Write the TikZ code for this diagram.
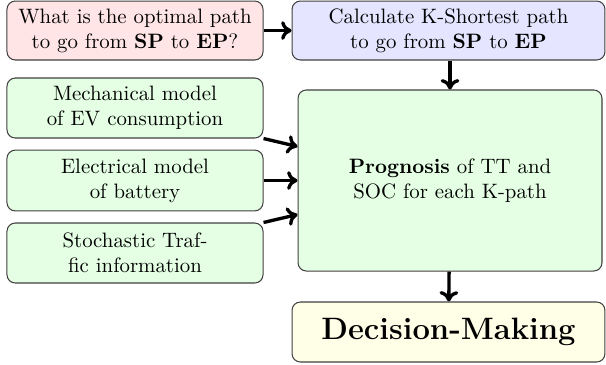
\documentclass[tikz,border=0pt]{standalone}
\usetikzlibrary{arrows.meta,calc}
\begin{document}
\begin{tikzpicture}[x=0.48pt,y=-0.48pt,
  box/.style={draw=black!75, line width=0.5pt, rounded corners=4pt, align=center, inner sep=1pt},
  arr/.style={-{To[length=5pt,width=9pt]}, line width=1.6pt}]
\useasboundingbox (0,0) rectangle (606,364);
\node[box, fill=red!10, minimum width=122.9pt, minimum height=28.3pt] (q) at (135,30.5)
  {What is the optimal path\\to go from \textbf{SP} to \textbf{EP}?};
\node[box, fill=blue!10, minimum width=150.2pt, minimum height=28.3pt] (k) at (448.5,30.5)
  {Calculate K-Shortest path\\to go from \textbf{SP} to \textbf{EP}};
\node[box, fill=green!10, minimum width=122.9pt, minimum height=28.8pt] (m) at (135,108)
  {Mechanical model\\of EV consumption};
\node[box, fill=green!10, minimum width=122.9pt, minimum height=29.2pt] (e) at (135,180.5)
  {Electrical model\\of battery};
\node[box, fill=green!10, minimum width=122.9pt, minimum height=28.8pt] (s) at (135,253)
  {Stochastic Traf-\\fic information};
\node[box, fill=green!10, minimum width=145.9pt, minimum height=86.9pt] (p) at (450,180.5)
  {\textbf{Prognosis} of TT and\\SOC for each K-path};
\node[box, fill=yellow!10, minimum width=150.2pt, minimum height=28.8pt] (d) at (448.5,332)
  {\resizebox{122pt}{!}{\LARGE\bfseries Decision-Making}};
\draw[arr] (q) -- (k);
\draw[arr] (k.south -| p.north) -- (p.north);
\draw[arr] (m.south east) -- ($(p.west)+(0,-34)$);
\draw[arr] (e) -- (p);
\draw[arr] (s.north east) -- ($(p.west)+(0,34)$);
\draw[arr] (p) -- (d);
\end{tikzpicture}
\end{document}
